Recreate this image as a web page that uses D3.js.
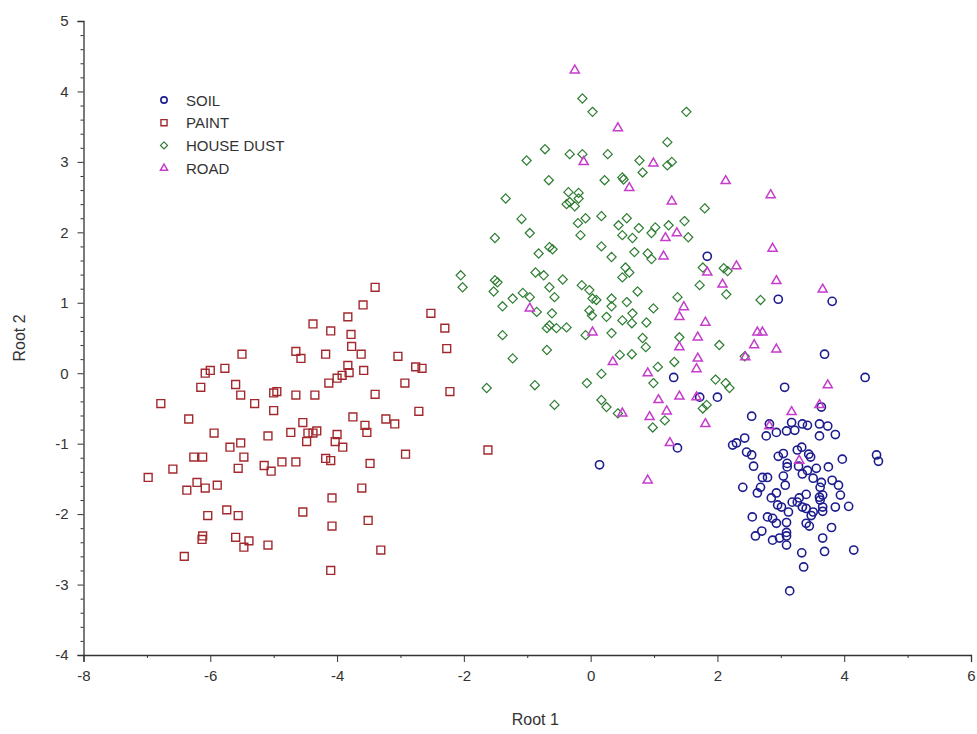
<!DOCTYPE html>
<html>
<head>
<meta charset="utf-8">
<script src="https://cdn.jsdelivr.net/npm/d3@7"></script>
<style>
  html, body { margin: 0; padding: 0; background: #fff; }
  svg { display: block; font-family: "Liberation Sans", Arial, sans-serif; }
</style>
</head>
<body>
<svg id="chart" width="977" height="734"></svg>
<script>
// Discriminant scores (Root 1, Root 2) per source group
const categories = ["SOIL", "PAINT", "HOUSE DUST", "ROAD"];

const soil = [
  [1.84,1.66],[2.96,1.05],[3.81,1.02],[3.69,0.27],[4.33,-0.06],[1.31,-0.06],[3.06,-0.20],[1.72,-0.34],
  [2.00,-0.34],[2.54,-0.61],[3.64,-0.48],[2.82,-0.72],[3.17,-0.70],[3.34,-0.72],[3.42,-0.74],[3.61,-0.72],
  [3.74,-0.75],[3.86,-0.87],[3.61,-0.89],[2.77,-0.89],[2.93,-0.84],[3.09,-0.82],[3.22,-0.81],[2.43,-0.92],
  [2.24,-1.02],[2.30,-0.99],[2.46,-1.12],[2.54,-1.16],[2.57,-1.32],[3.04,-1.14],[2.96,-1.18],[3.26,-1.09],
  [3.33,-1.05],[3.44,-1.15],[3.47,-1.19],[3.28,-1.32],[3.10,-1.28],[3.10,-1.33],[3.56,-1.35],[3.75,-1.33],
  [3.97,-1.22],[4.51,-1.16],[4.54,-1.25],[2.71,-1.48],[2.79,-1.48],[2.68,-1.62],[2.40,-1.62],[3.04,-1.46],
  [3.07,-1.59],[3.34,-1.43],[3.42,-1.38],[3.51,-1.49],[3.64,-1.55],[3.62,-1.62],[3.81,-1.52],[3.91,-1.59],
  [2.63,-1.70],[2.93,-1.70],[2.85,-1.77],[3.40,-1.72],[3.29,-1.77],[3.26,-1.83],[3.61,-1.76],[3.66,-1.73],
  [3.62,-1.80],[3.94,-1.73],[3.18,-1.83],[2.95,-1.87],[3.01,-1.90],[3.12,-1.97],[3.34,-1.90],[3.40,-1.92],
  [3.66,-1.90],[3.66,-1.96],[3.86,-1.90],[4.07,-1.89],[3.51,-1.97],[3.48,-2.02],[2.55,-2.04],[2.79,-2.04],
  [2.87,-2.06],[2.93,-2.13],[3.09,-2.12],[3.40,-2.13],[3.45,-2.17],[3.80,-2.19],[2.70,-2.24],[2.60,-2.31],
  [3.09,-2.26],[3.09,-2.31],[3.09,-2.44],[2.87,-2.37],[2.98,-2.34],[3.66,-2.34],[3.33,-2.55],[3.69,-2.53],
  [4.15,-2.51],[3.36,-2.75],[3.14,-3.09],[1.37,-1.06],[0.14,-1.30]
];

const paint = [
  [-5.50,0.27],[-4.65,0.31],[-4.57,0.21],[-6.00,0.04],[-6.08,0.00],[-5.77,0.07],[-6.15,-0.20],[-5.60,-0.16],
  [-5.52,-0.31],[-5.30,-0.43],[-5.00,-0.28],[-4.95,-0.26],[-4.65,-0.31],[-6.78,-0.43],[-5.00,-0.53],[-6.34,-0.65],
  [-5.94,-0.85],[-5.09,-0.89],[-4.73,-0.84],[-4.54,-0.70],[-5.52,-0.99],[-5.69,-1.05],[-6.26,-1.19],[-6.12,-1.19],
  [-5.47,-1.19],[-5.56,-1.35],[-5.15,-1.31],[-5.04,-1.39],[-4.87,-1.26],[-4.65,-1.26],[-6.59,-1.36],[-6.98,-1.48],
  [-6.21,-1.55],[-6.37,-1.66],[-6.08,-1.63],[-5.89,-1.59],[-6.04,-2.02],[-5.74,-1.94],[-5.56,-2.02],[-4.54,-1.97],
  [-6.12,-2.31],[-6.13,-2.36],[-5.60,-2.33],[-5.39,-2.38],[-5.47,-2.47],[-5.09,-2.44],[-6.41,-2.60],[-3.40,1.22],
  [-3.59,0.97],[-3.83,0.80],[-4.38,0.70],[-4.10,0.60],[-3.78,0.55],[-2.52,0.85],[-2.30,0.64],[-2.27,0.35],
  [-3.77,0.38],[-3.62,0.27],[-4.18,0.27],[-3.04,0.24],[-2.76,0.09],[-2.66,0.07],[-3.83,0.11],[-3.81,0.01],
  [-3.92,-0.03],[-4.00,-0.07],[-4.13,-0.14],[-3.58,0.04],[-2.93,-0.14],[-4.35,-0.31],[-3.40,-0.30],[-2.22,-0.26],
  [-2.71,-0.54],[-3.75,-0.62],[-3.56,-0.74],[-3.53,-0.84],[-3.23,-0.65],[-3.09,-0.72],[-4.46,-0.85],[-4.38,-0.85],
  [-4.32,-0.82],[-4.48,-0.97],[-4.00,-0.87],[-4.03,-0.97],[-3.91,-1.05],[-2.92,-1.15],[-1.62,-1.09],[-4.18,-1.21],
  [-4.10,-1.24],[-3.48,-1.28],[-3.61,-1.63],[-4.08,-1.77],[-3.51,-2.09],[-4.08,-2.17],[-3.31,-2.51],[-4.10,-2.80]
];

const houseDust = [
  [-0.13,3.90],[0.03,3.71],[1.51,3.71],[-0.72,3.18],[-1.01,3.02],[-0.33,3.11],[-0.13,3.11],[0.27,3.11],
  [1.21,3.28],[0.77,3.02],[0.82,2.85],[1.28,3.00],[1.21,2.95],[-0.66,2.74],[0.22,2.74],[0.50,2.78],
  [0.52,2.75],[-1.34,2.48],[-0.35,2.57],[-0.19,2.56],[-0.19,2.48],[-0.33,2.43],[-0.25,2.37],[-0.38,2.40],
  [1.80,2.34],[-1.09,2.19],[-0.96,1.99],[-1.51,1.92],[-0.08,2.20],[-0.20,2.13],[0.17,2.23],[0.57,2.20],
  [0.44,2.10],[0.76,2.06],[1.02,2.07],[0.96,1.99],[1.23,2.10],[1.48,2.16],[1.54,1.93],[-0.16,1.96],
  [0.50,1.96],[0.66,1.92],[-0.82,1.70],[-0.65,1.79],[-0.60,1.76],[0.17,1.80],[0.33,1.65],[0.69,1.72],
  [0.90,1.70],[0.96,1.62],[1.77,1.50],[-0.87,1.43],[-0.74,1.39],[-0.44,1.33],[-1.51,1.32],[-1.47,1.29],
  [-1.53,1.16],[0.55,1.50],[0.61,1.43],[0.50,1.36],[-0.65,1.22],[-0.57,1.08],[-0.14,1.25],[-0.02,1.18],
  [0.03,1.06],[0.09,1.04],[-1.07,1.14],[-1.23,1.06],[-0.96,1.08],[0.74,1.16],[1.72,1.25],[1.37,1.08],
  [-1.39,0.95],[-0.85,0.87],[0.33,1.06],[0.33,0.95],[0.57,1.01],[0.99,0.92],[-0.61,0.85],[-0.02,0.89],
  [0.02,0.82],[-0.69,0.64],[-0.54,0.64],[-0.38,0.65],[-0.65,0.68],[0.25,0.80],[0.50,0.75],[0.66,0.85],
  [0.65,0.71],[0.88,0.72],[-1.39,0.54],[-0.08,0.54],[0.33,0.57],[0.82,0.50],[0.87,0.37],[1.40,0.51],
  [-0.69,0.33],[-1.23,0.21],[0.46,0.26],[0.65,0.27],[1.32,0.16],[0.17,-0.01],[1.06,0.09],[-1.64,-0.21],
  [-0.88,-0.17],[-0.06,-0.14],[0.99,-0.14],[-0.57,-0.45],[0.17,-0.38],[0.25,-0.48],[0.43,-0.57],[1.17,-0.67],
  [0.98,-0.77],[1.77,-0.50],[1.83,-0.45],[2.10,1.49],[2.16,1.45],[2.14,1.12],[2.68,1.04],[2.03,0.40],
  [2.43,0.24],[1.97,-0.09],[2.13,-0.14],[2.19,-0.21],[-2.05,1.39],[-2.02,1.22]
];

const road = [
  [-0.25,4.30],[0.43,3.48],[-0.11,3.00],[0.99,2.98],[0.61,2.63],[1.28,2.44],[1.36,1.99],[1.18,1.92],
  [2.13,2.73],[2.84,2.53],[2.87,1.77],[1.84,1.43],[2.30,1.52],[2.08,1.26],[2.93,1.31],[3.66,1.19],
  [1.15,1.66],[-0.96,0.92],[1.47,0.94],[1.40,0.80],[1.81,0.72],[0.03,0.58],[1.69,0.51],[1.40,0.37],
  [1.69,0.21],[1.67,0.06],[0.35,0.16],[0.90,0.00],[1.40,-0.33],[1.07,-0.38],[1.20,-0.54],[0.93,-0.62],
  [0.50,-0.57],[1.81,-0.72],[1.67,-0.34],[2.63,0.58],[2.71,0.58],[2.58,0.40],[2.93,0.34],[2.44,0.23],
  [3.74,-0.17],[3.17,-0.55],[3.61,-0.45],[2.82,-0.75],[3.29,-1.24],[1.25,-0.99],[0.90,-1.52]
];

// Axis tick values
const xMajorTicks = [-8, -6, -4, -2, 0, 2, 4, 6];
const xMinorTicks = [-7, -5, -3, -1, 1, 3, 5];
const yMajorTicks = [-4, -3, -2, -1, 0, 1, 2, 3, 4, 5];
const yMinorTicks = d3.range(-4, 5.001, 0.2).filter(v => Math.abs(v - Math.round(v)) > 1e-6);

const svg = d3.select("#chart");

const x = d3.scaleLinear().domain([-8, 6]).range([83.5, 971]);
const y = d3.scaleLinear().domain([-4, 5]).range([655, 21]);

const axisColor = "#333";
const labelColor = "#333";
// plain hyphen-minus for negative tick labels
const plainNumber = d => String(d);

// X axis: labelled majors + unlabelled minors
const gx = svg.append("g").attr("transform", "translate(0,655)");
gx.call(d3.axisBottom(x).tickValues(xMajorTicks).tickSize(7).tickPadding(8).tickFormat(plainNumber));
gx.append("g").call(d3.axisBottom(x).tickValues(xMinorTicks).tickSize(3).tickFormat(""))
  .select(".domain").remove();

// Y axis
const gy = svg.append("g").attr("transform", "translate(83.5,0)");
gy.call(d3.axisLeft(y).tickValues(yMajorTicks).tickSize(6).tickPadding(9).tickFormat(plainNumber));
gy.append("g").call(d3.axisLeft(y).tickValues(yMinorTicks).tickSize(3).tickFormat(""))
  .select(".domain").remove();

svg.selectAll(".domain").attr("stroke", axisColor).attr("stroke-width", 1.3);
svg.selectAll(".tick line").attr("stroke", axisColor).attr("stroke-width", 1);
svg.selectAll(".tick text")
  .attr("fill", labelColor)
  .style("font-size", "15px")
  .style("font-family", "'Liberation Sans', Arial, sans-serif");

// Axis titles
svg.append("text")
  .attr("x", (x(-8) + x(6)) / 2 + 8)
  .attr("y", 725)
  .attr("text-anchor", "middle")
  .attr("fill", labelColor)
  .style("font-size", "16px")
  .text("Root 1");

svg.append("text")
  .attr("transform", `translate(25,${(y(5) + y(-4)) / 2}) rotate(-90)`)
  .attr("text-anchor", "middle")
  .attr("fill", labelColor)
  .style("font-size", "16px")
  .text("Root 2");

// Marker shapes, one per group
const diamond = {
  draw(ctx, size) {
    const r = Math.sqrt(size / 2);
    ctx.moveTo(0, -r); ctx.lineTo(r, 0); ctx.lineTo(0, r); ctx.lineTo(-r, 0); ctx.closePath();
  }
};

const groups = [
  { name: categories[0], data: soil,      color: "#1c1c8e", type: d3.symbolCircle,   size: 52, sw: 1.6 },
  { name: categories[1], data: paint,     color: "#a3282d", type: d3.symbolSquare,   size: 62, sw: 1.4 },
  { name: categories[2], data: houseDust, color: "#2e7d32", type: diamond,           size: 42, sw: 1.2 },
  { name: categories[3], data: road,      color: "#c53ccc", type: d3.symbolTriangle, size: 36, sw: 1.5 }
];

const plot = svg.append("g");
groups.forEach(g => {
  const path = d3.symbol().type(g.type).size(g.size)();
  plot.append("g").selectAll("path")
    .data(g.data)
    .join("path")
    .attr("d", path)
    .attr("transform", d => `translate(${x(d[0])},${y(d[1])})`)
    .attr("fill", "none")
    .attr("stroke", g.color)
    .attr("stroke-width", g.sw);
});

// Legend
const legend = svg.append("g").attr("transform", "translate(164,100)");
groups.forEach((g, i) => {
  const row = legend.append("g").attr("transform", `translate(0,${i * 22.7})`);
  row.append("path")
    .attr("d", d3.symbol().type(g.type).size(g.size * 0.6)())
    .attr("fill", "none")
    .attr("stroke", g.color)
    .attr("stroke-width", g.sw);
  row.append("text")
    .attr("x", 22)
    .attr("y", 5.5)
    .attr("fill", labelColor)
    .style("font-size", "15px")
    .text(g.name);
});
</script>
</body>
</html>
